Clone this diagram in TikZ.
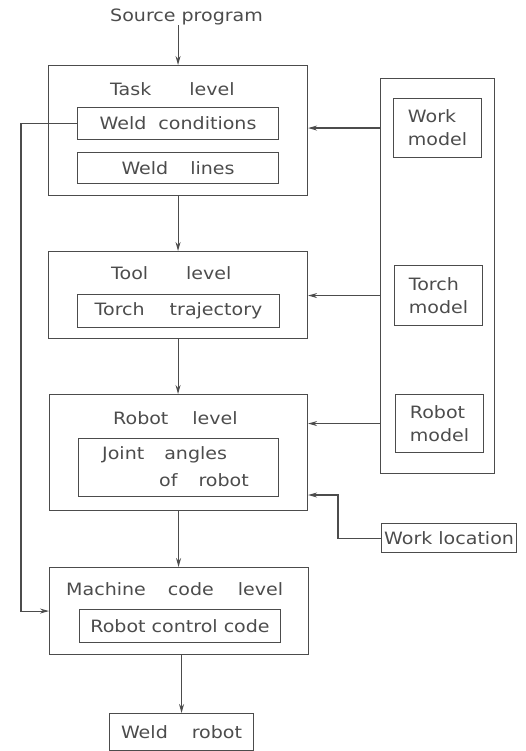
\documentclass[tikz,border=0pt]{standalone}
\usepackage{fontspec}
\setmainfont{DejaVu Sans}[FakeStretch=1.12]
\usetikzlibrary{arrows.meta}
\definecolor{ink}{gray}{0.3}
\begin{document}
\begin{tikzpicture}[x=1pt,y=-1pt,
  every node/.style={text=ink, font=\fontsize{17}{23}\selectfont},
  box/.style={draw=ink, line width=1.1pt, inner sep=0pt, anchor=north west},
  lbl/.style={inner sep=0pt, anchor=west},
  arr/.style={draw=ink, line width=1.1pt, -{Stealth[length=9pt,width=5pt]}}]
\useasboundingbox (0,0) rectangle (525,751);

% level boxes
\node[box, minimum width=259pt, minimum height=130pt] (task) at (48,65) {};
\node[box, minimum width=259pt, minimum height=87pt] (tool) at (48,251) {};
\node[box, minimum width=258pt, minimum height=116pt] (robot) at (49,394) {};
\node[box, minimum width=259pt, minimum height=87pt] (mc) at (49,567) {};

% inner boxes
\node[box, minimum width=201pt, minimum height=32pt] (wc) at (77,107) {Weld\hspace{12pt}conditions};
\node[box, minimum width=201pt, minimum height=31pt] (wl) at (77,152) {Weld\hspace{22pt}lines};
\node[box, minimum width=202pt, minimum height=33pt] (tt) at (77,294) {Torch\hspace{25pt}trajectory};
\node[box, minimum width=200pt, minimum height=58pt] (ja) at (78,438) {};
\node[box, minimum width=201pt, minimum height=33pt] (rcc) at (79,609) {Robot control code};
\node[box, minimum width=144pt, minimum height=37pt] (weld) at (109,713) {Weld\hspace{24pt}robot};

% model boxes
\node[box, minimum width=114pt, minimum height=395pt] (models) at (380,78) {};
\node[box, minimum width=88pt, minimum height=59pt, align=left] (workm) at (393,98) {Work\\model};
\node[box, minimum width=88pt, minimum height=60pt, align=left] (torchm) at (394,265) {Torch\\model};
\node[box, minimum width=88pt, minimum height=58pt, align=left] (robotm) at (395,394) {Robot\\model};
\node[box, minimum width=135pt, minimum height=29pt] (wloc) at (381,523) {Work location};

% labels
\node[lbl] (src) at (110,17) {Source program};
\node[lbl] (taskl) at (110,89) {Task\hspace{38pt}level};
\node[lbl] (tooll) at (111,273) {Tool\hspace{38pt}level};
\node[lbl] (robotl) at (113,418) {Robot\hspace{24pt}level};
\node[lbl] (ja1) at (102,455) {Joint\hspace{20pt}angles};
\node[lbl] (ja2) at (159,480) {of\hspace{21pt}robot};
\node[lbl] (mcl) at (66,589) {Machine\hspace{22pt}code\hspace{24pt}level};

% coordinates
\coordinate (fb) at (21,0);
\coordinate (bend) at (338,495);

% vertical flow
\draw[arr] (src.south -| task.north) -- (task.north);
\draw[arr] (task.south) -- (task.south |- tool.north);
\draw[arr] (tool.south) -- (tool.south |- robot.north);
\draw[arr] (robot.south) -- (robot.south |- mc.north);
\draw[arr] (mc.south -| weld.north) -- (weld.north);

% model arrows
\draw[arr] (workm.west -| models.west) -- (workm.west -| task.east);
\draw[arr] (torchm.west -| models.west) -- (torchm.west -| tool.east);
\draw[arr] (robotm.west -| models.west) -- (robotm.west -| robot.east);

% work location
\draw[arr] (wloc.west) -| (bend) -- (bend -| robot.east);

% feedback
\draw[arr] (wc.west) -- (wc.west -| fb) |- (mc.west);
\end{tikzpicture}
\end{document}
